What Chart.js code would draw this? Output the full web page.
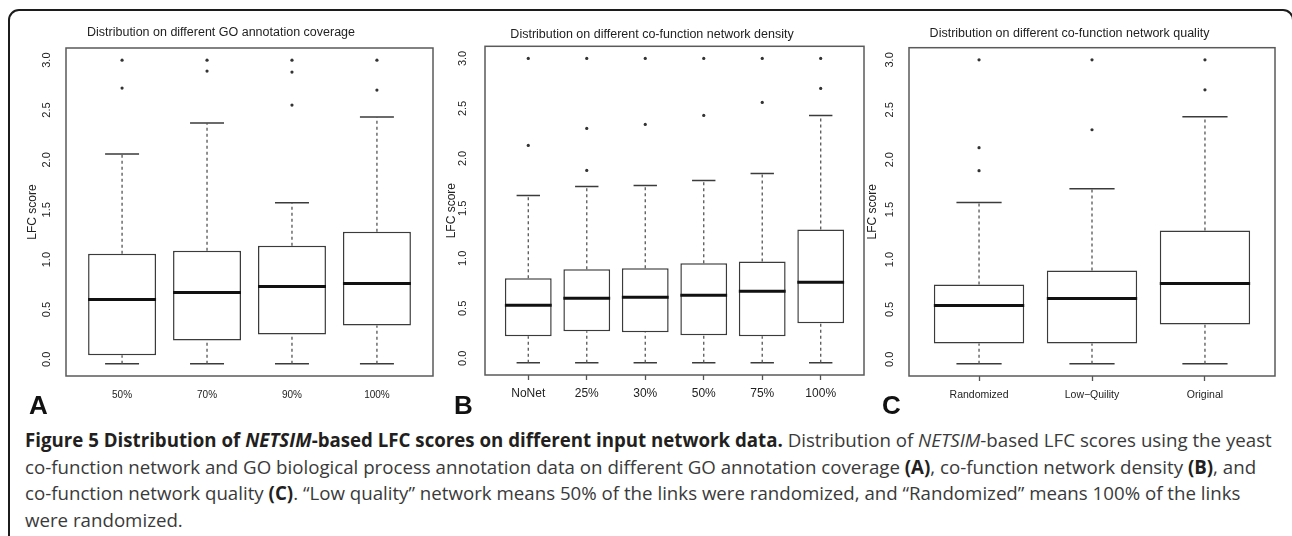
<!DOCTYPE html>
<html>
<head>
<meta charset="utf-8">
<script src="https://cdn.jsdelivr.net/npm/chart.js@4.4.1/dist/chart.umd.min.js"></script>
<style>
  html, body { margin: 0; padding: 0; background: #fff; }
  body { width: 1292px; height: 536px; position: relative; overflow: hidden; font-family: "Liberation Sans", Arial, sans-serif; }
  .outline { position: absolute; left: 8px; top: 9px; width: 1286px; height: 600px; box-sizing: border-box; border: 2px solid #1c1c1c; border-radius: 11px; }
  canvas { position: absolute; }
  .tag { position: absolute; top: 392px; font: bold 26px "Liberation Sans", Arial, sans-serif; line-height: 26px; color: #111; }
  .caption { position: absolute; left: 25px; top: 427px; font-family: "Open Sans", sans-serif; font-size: 18.7px; line-height: 26.7px; color: #3a3a3a; white-space: nowrap; }
  .caption b { color: #231f20; }
</style>
</head>
<body>
<div class="outline"></div>
<canvas id="chartA"></canvas>
<canvas id="chartB"></canvas>
<canvas id="chartC"></canvas>
<div class="tag" style="left:29px;">A</div>
<div class="tag" style="left:454px;">B</div>
<div class="tag" style="left:882px;">C</div>
<div class="caption">
  <b>Figure 5 Distribution of <i>NETSIM</i>-based LFC scores on different input network data.</b> Distribution of <i>NETSIM</i>-based LFC scores using the yeast<br>
  co-function network and GO biological process annotation data on different GO annotation coverage <b>(A)</b>, co-function network density <b>(B)</b>, and<br>
  co-function network quality <b>(C)</b>. “Low quality” network means 50% of the links were randomized, and “Randomized” means 100% of the links<br>
  were randomized.
</div>

<script>
// ---- data ----
const yTicks = [0, 0.5, 1, 1.5, 2, 2.5, 3];

// A: GO annotation coverage
const catsA = ['50%', '70%', '90%', '100%'];
const loA  = [-0.045, -0.045, -0.045, -0.045];
const q1A  = [0.04, 0.19, 0.25, 0.34];
const medA = [0.60, 0.67, 0.73, 0.76];
const q3A  = [1.06, 1.09, 1.14, 1.28];
const hiA  = [2.06, 2.37, 1.57, 2.43];
const outA = [[3.0, 2.72], [3.0, 2.89], [3.0, 2.88, 2.55], [3.0, 2.70]];

// B: co-function network density
const catsB = ['NoNet', '25%', '30%', '50%', '75%', '100%'];
const loB  = [-0.045, -0.045, -0.045, -0.045, -0.045, -0.045];
const q1B  = [0.22, 0.27, 0.26, 0.23, 0.22, 0.35];
const medB = [0.53, 0.60, 0.61, 0.63, 0.67, 0.76];
const q3B  = [0.80, 0.89, 0.90, 0.95, 0.97, 1.29];
const hiB  = [1.63, 1.72, 1.73, 1.78, 1.85, 2.43];
const outB = [[3.0, 2.13], [3.0, 2.30, 1.88], [3.0, 2.34], [3.0, 2.43], [3.0, 2.56], [3.0, 2.70]];

// C: co-function network quality
const catsC = ['Randomized', 'Low\u2212Quility', 'Original'];
const loC  = [-0.045, -0.045, -0.045];
const q1C  = [0.16, 0.16, 0.35];
const medC = [0.54, 0.61, 0.76];
const q3C  = [0.75, 0.89, 1.29];
const hiC  = [1.57, 1.71, 2.43];
const outC = [[3.0, 2.12, 1.89], [3.0, 2.30], [3.0, 2.70]];

const FONT = '"Liberation Sans", Arial, sans-serif';

// R-style plot frame around the plotting region
const frame = {
  id: 'frame',
  afterDraw(chart) {
    const { ctx, chartArea: a } = chart;
    ctx.save();
    ctx.strokeStyle = '#5a5a5a';
    ctx.lineWidth = 1.5;
    ctx.strokeRect(a.left, a.top, a.right - a.left, a.bottom - a.top);
    ctx.restore();
  }
};

function boxPlot(id, title, cats, lo, q1, med, q3, hi, out, look) {
  const cv = document.getElementById(id);
  cv.width = look.w; cv.height = look.h;
  cv.style.left = look.left + 'px'; cv.style.top = look.top + 'px';

  const n = cats.length;
  const xs = cats.map((c, i) => i + 1);
  const whiskers = [], caps = [], medians = [], points = [];
  xs.forEach((x, i) => {
    whiskers.push({ x, y: lo[i] }, { x, y: q1[i] }, { x, y: null }, { x, y: q3[i] }, { x, y: hi[i] }, { x, y: null });
    caps.push({ x: x - 0.2, y: lo[i] }, { x: x + 0.2, y: lo[i] }, { x, y: null },
              { x: x - 0.2, y: hi[i] }, { x: x + 0.2, y: hi[i] }, { x, y: null });
    medians.push({ x: x - 0.4, y: med[i] }, { x: x + 0.4, y: med[i] }, { x, y: null });
    out[i].forEach(y => points.push({ x, y }));
  });
  const all = lo.concat(hi, ...out);
  const lowV = Math.min(...all), highV = Math.max(...all);
  const ext = (highV - lowV) * 0.04;

  new Chart(cv, {
    type: 'bar',
    data: {
      datasets: [
        { type: 'bar', data: xs.map((x, i) => ({ x, y: [q1[i], q3[i]] })), backgroundColor: '#fff',
          borderColor: '#3b3b3b', borderWidth: 1.5, borderSkipped: false, barPercentage: 0.8, categoryPercentage: 1, order: 2 },
        { type: 'line', data: medians, borderColor: '#111', borderWidth: 3, pointRadius: 0, borderCapStyle: 'butt', order: 0 },
        { type: 'line', data: whiskers, borderColor: '#555', borderWidth: 1.3, borderDash: [3, 3], pointRadius: 0, order: 3 },
        { type: 'line', data: caps, borderColor: '#3b3b3b', borderWidth: 1.5, pointRadius: 0, order: 3 },
        { type: 'scatter', data: points, pointRadius: 1.6, backgroundColor: '#333', borderWidth: 0, order: 1 },
      ],
    },
    options: {
      responsive: false,
      animation: false,
      devicePixelRatio: 1,
      layout: { padding: { left: 0, right: look.padR, top: 0, bottom: 0 } },
      plugins: {
        legend: { display: false },
        tooltip: { enabled: false },
        title: { display: true, text: title, color: '#222', font: { family: FONT, size: 12.5, weight: 'normal' },
                 padding: { top: look.tTop, bottom: look.tBot } },
      },
      scales: {
        x: {
          type: 'linear', offset: false,
          min: 0.5 - n * 0.04, max: n + 0.5 + n * 0.04,
          afterBuildTicks: s => { s.ticks = xs.map(v => ({ value: v })); },
          afterFit: s => { s.height = look.xh; },
          ticks: { callback: (v, i) => cats[i], autoSkip: false, maxRotation: 0, padding: look.xPad,
                   color: '#222', font: { family: FONT, size: look.xFont } },
          grid: { display: look.xTicks, offset: false, drawOnChartArea: false, drawTicks: look.xTicks, tickLength: 5, tickColor: '#555', tickWidth: 1.3 },
          border: { display: false },
        },
        y: {
          min: lowV - ext, max: highV + ext,
          afterBuildTicks: s => { s.ticks = yTicks.map(v => ({ value: v })); },
          afterFit: s => { s.width = look.yw; },
          ticks: { callback: v => v.toFixed(1), minRotation: 90, crossAlign: 'center', autoSkip: false,
                   padding: look.yPad, color: '#222', font: { family: FONT, size: 11 } },
          grid: { display: false, drawTicks: false },
          border: { display: false },
          title: { display: true, text: 'LFC score', color: '#222', font: { family: FONT, size: 12 },
                   padding: { top: look.yTitlePad, bottom: 0 } },
        },
      },
    },
    plugins: [frame],
  });
}

boxPlot('chartA', 'Distribution on different GO annotation coverage', catsA, loA, q1A, medA, q3A, hiA, outA,
  { left: 9, top: 12, w: 464, h: 400, padR: 40, yw: 57, xh: 36, tTop: 12.8, tBot: 8.2, yTitlePad: 16.8, yPad: 11.4, xPad: 13, xTicks: false, xFont: 10 });

boxPlot('chartB', 'Distribution on different co-function network density', catsB, loB, q1B, medB, q3B, hiB, outB,
  { left: 440, top: 12, w: 440, h: 400, padR: 16, yw: 45, xh: 37, tTop: 14.8, tBot: 4.5, yTitlePad: 4.8, yPad: 14.4, xPad: 6.8, xTicks: true, xFont: 12 });

boxPlot('chartC', 'Distribution on different co-function network quality', catsC, loC, q1C, medC, q3C, hiC, outC,
  { left: 864, top: 12, w: 433, h: 400, padR: 22, yw: 45, xh: 36, tTop: 13.8, tBot: 6.9, yTitlePad: 1.8, yPad: 11.4, xPad: 7.7, xTicks: true, xFont: 10.5 });
</script>
</body>
</html>
